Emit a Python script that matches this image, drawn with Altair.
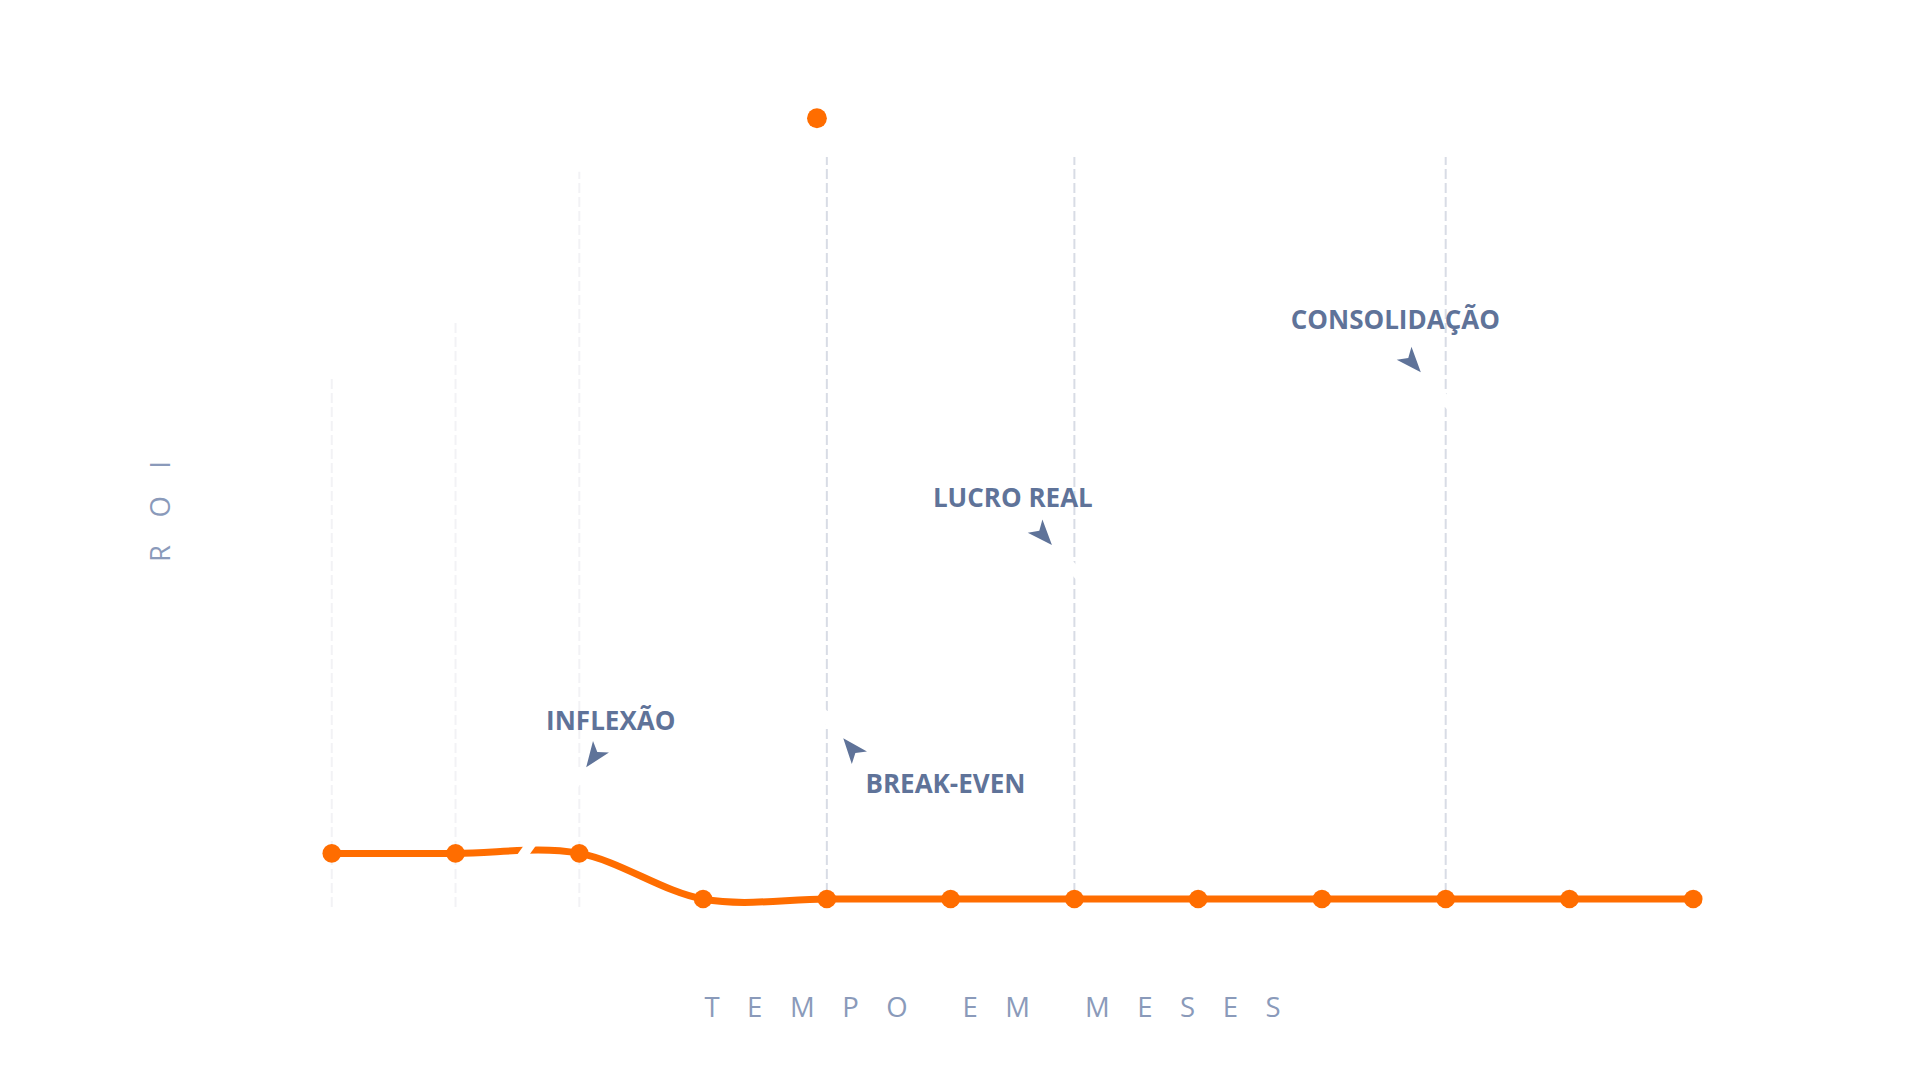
import altair as alt
import pandas as pd

# ---------------- data ----------------
meses = list(range(1, 13))
roi = [5.7, 5.7, 5.7, 0, 0, 0, 0, 0, 0, 0, 0, 0]

destaque_mes = [4.92]
destaque_roi = [97.6]

marcos_mes = [5, 7, 10]
marcos_topo = [92.75, 92.75, 92.75]
marcos_base = [-1, -1, -1]

guias_mes = [1, 2, 3]
guias_topo = [65.3, 72.4, 90.9]
guias_base = [-1, -1, -1]

rotulos = ["INFLEXÃO", "BREAK-EVEN", "LUCRO REAL", "CONSOLIDAÇÃO"]
rotulo_mes = [3.254, 5.958, 6.503, 9.593]
rotulo_roi = [21.13, 13.29, 49.04, 71.21]
seta_mes = [3.122, 5.205, 6.743, 9.724]
seta_roi = [17.89, 18.73, 45.56, 67.16]
seta_angulo = [215.8, 320.4, 138.2, 138.6]
conector_mes = [3.056, 5.132, 6.819, 9.799]
conector_roi = [16.46, 20.09, 44.25, 65.84]
conector_mes2 = [2.466, 4.901, 7.061, 10.093]
conector_roi2 = [3.79, 24.43, 40.05, 60.68]

titulo_x = "T\u2003E\u2003M\u2003P\u2003O\u2003\u2003E\u2003M\u2003\u2003M\u2003E\u2003S\u2003E\u2003S"
titulo_y = "R\u2003O\u2003I"

# ---------------- style ----------------
LARANJA = "#ff6d00"
AZUL = "#5f7399"
TITULO = "#8a9aba"
FONTE = "Open Sans"

xs = alt.Scale(domain=[0, 13], nice=False, zero=False)
ys = alt.Scale(domain=[0, 100], nice=False, zero=False)

ax_x = alt.Axis(title=titulo_x, labels=False, ticks=False, domain=False, grid=False,
                titleFont=FONTE, titleFontSize=27.5, titleFontWeight="normal",
                titleColor=TITULO, titleAlign="center", titleBaseline="alphabetic",
                titleX=784, titleY=117)
ax_y = alt.Axis(title=titulo_y, labels=False, ticks=False, domain=False, grid=False,
                titleFont=FONTE, titleFontSize=27.5, titleFontWeight="normal",
                titleColor=TITULO, titleAlign="center", titleBaseline="alphabetic",
                titleAngle=270, titleX=-39, titleY=412)


def X(f):
    return alt.X(f"{f}:Q", scale=xs, axis=ax_x)


def Y(f):
    return alt.Y(f"{f}:Q", scale=ys, axis=ax_y)


serie = pd.DataFrame({"mes": meses, "roi": roi})
destaque = pd.DataFrame({"mes": destaque_mes, "roi": destaque_roi})
marcos = pd.DataFrame({"mes": marcos_mes, "roi": marcos_base, "roi2": marcos_topo})
guias = pd.DataFrame({"mes": guias_mes, "roi": guias_base, "roi2": guias_topo})
notas = pd.DataFrame({"rotulo": rotulos, "mes": rotulo_mes, "roi": rotulo_roi})
setas = pd.DataFrame({"mes": seta_mes, "roi": seta_roi, "ang": seta_angulo})
conectores = pd.DataFrame({"mes": conector_mes, "roi": conector_roi,
                           "mes2": conector_mes2, "roi2": conector_roi2})

guias_l = alt.Chart(guias).mark_rule(color="#f2f2f5", strokeWidth=2, strokeDash=[10, 4]).encode(
    x=X("mes"), y=Y("roi"), y2="roi2")

marcos_l = alt.Chart(marcos).mark_rule(color="#d8dce5", strokeWidth=2, strokeDash=[10, 4]).encode(
    x=X("mes"), y=Y("roi"), y2="roi2")

linha = alt.Chart(serie).mark_line(color=LARANJA, strokeWidth=7, interpolate="cardinal").encode(
    x=X("mes"), y=Y("roi"))

pontos = alt.Chart(serie).mark_circle(color=LARANJA, size=346, opacity=1).encode(
    x=X("mes"), y=Y("roi"))

ponto_destaque = alt.Chart(destaque).mark_circle(color=LARANJA, size=394, opacity=1).encode(
    x=X("mes"), y=Y("roi"))

conect_l = alt.Chart(conectores).mark_rule(color="white", strokeWidth=10, strokeCap="butt").encode(
    x=X("mes"), y=Y("roi"), x2="mes2", y2="roi2")

SETA = "M0,-1L0.7,0.8L0,0.35L-0.7,0.8Z"
setas_l = alt.Chart(setas).mark_point(shape=SETA, filled=True, size=790, color=AZUL,
                                      opacity=1, strokeWidth=0).encode(
    x=X("mes"), y=Y("roi"), angle=alt.Angle("ang:Q", scale=None))

textos = alt.Chart(notas).mark_text(font=FONTE, fontSize=26, fontWeight="bold", color=AZUL,
                                    align="center", baseline="alphabetic").encode(
    x=X("mes"), y=Y("roi"), text="rotulo:N")

chart = alt.layer(guias_l, marcos_l, linha, pontos, ponto_destaque, conect_l, setas_l, textos).properties(
    width=1609, height=800,
    padding={"left": 200, "top": 91, "right": 90, "bottom": 150},
    autosize=alt.AutoSizeParams(type="none"),
    background="white",
).configure_view(stroke=None)

chart.save("out.html", embed_options={"renderer": "svg", "actions": False})
